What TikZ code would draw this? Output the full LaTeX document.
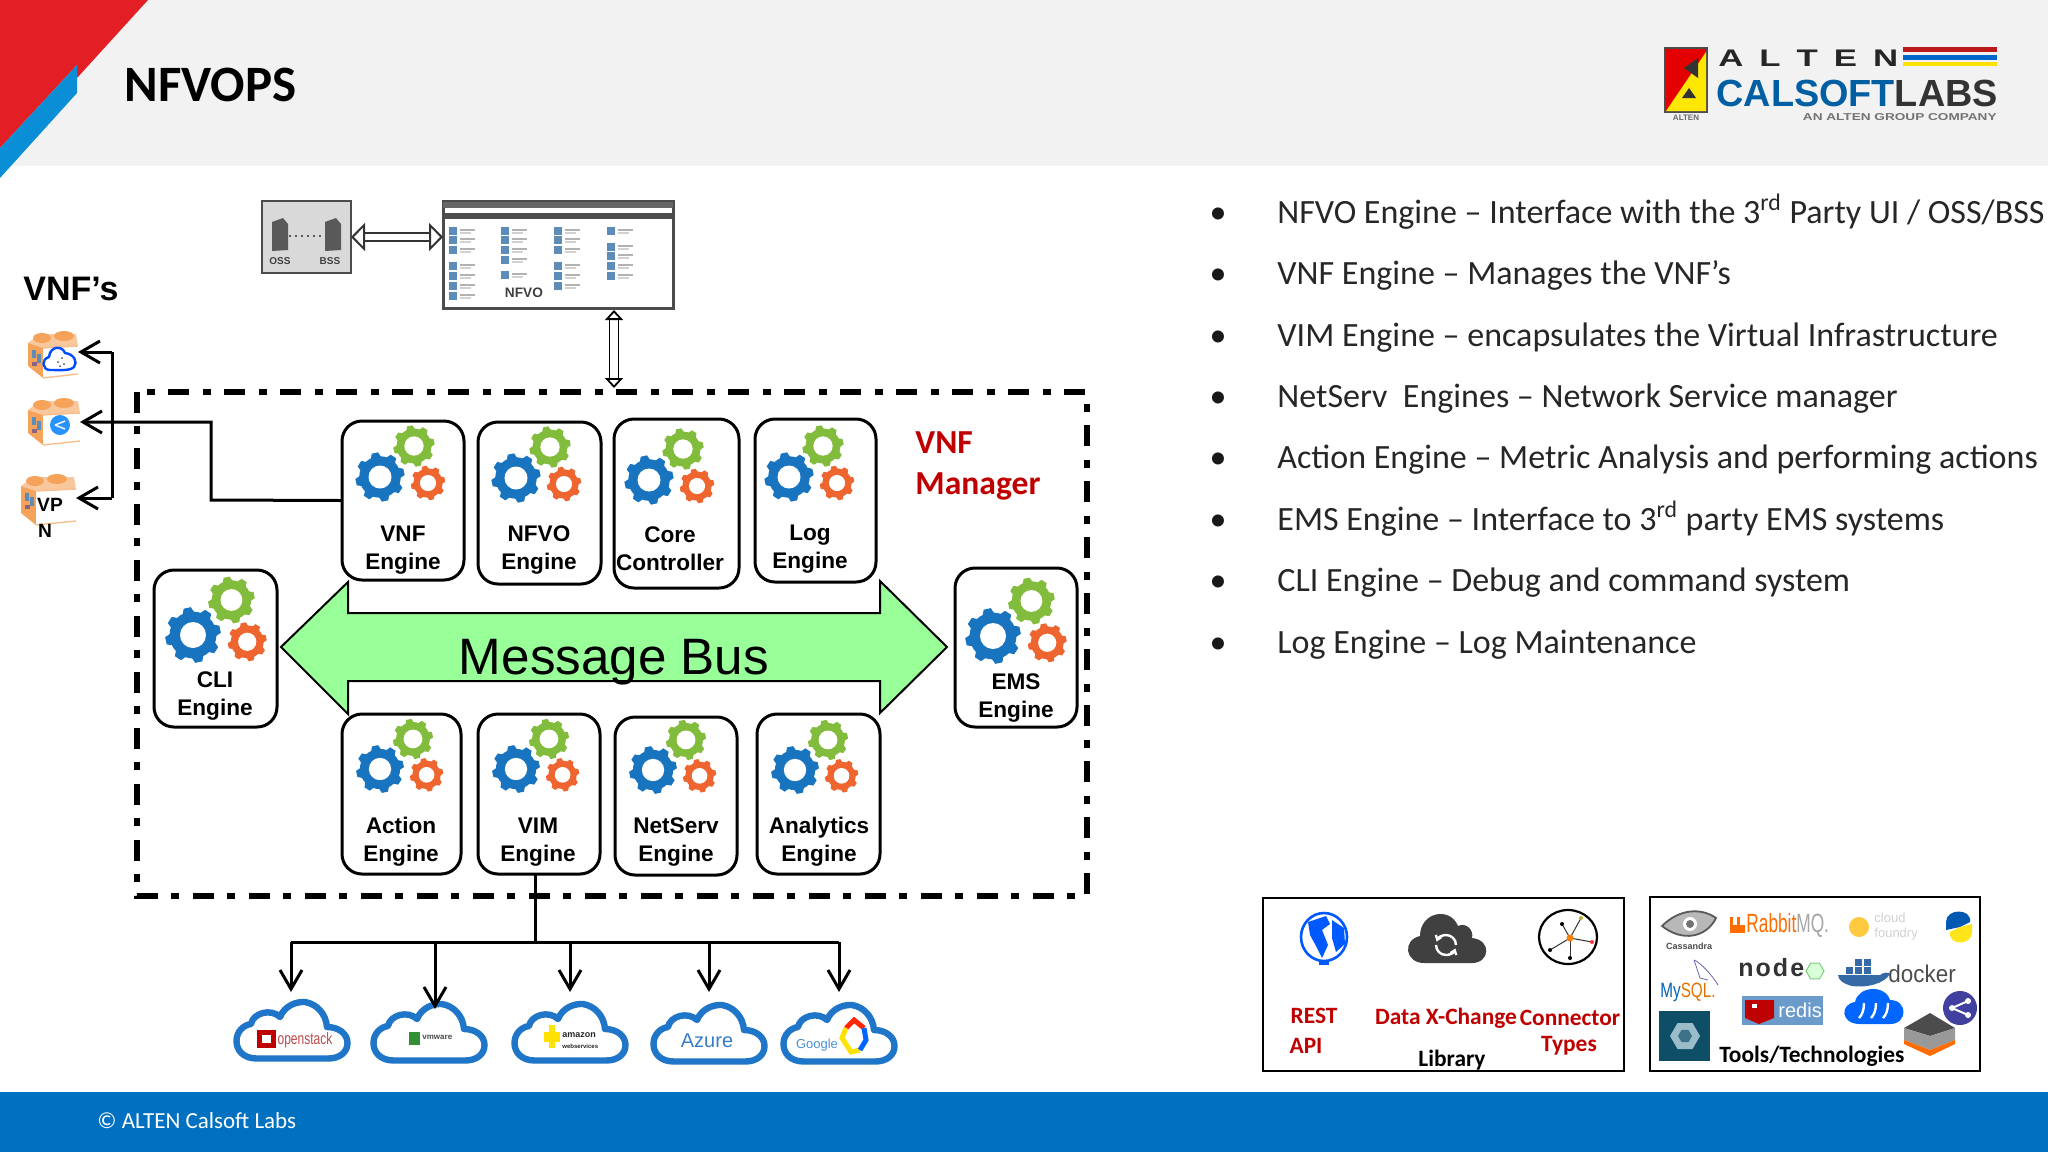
\documentclass[tikz,border=0pt]{standalone}
\usepackage{fontspec}
\usepackage{graphicx}
\setmainfont{Carlito}
\newfontfamily\arial{Liberation Sans}
\usetikzlibrary{arrows.meta,fit,calc,shapes.geometric}
\definecolor{hdr}{HTML}{F2F2F2}
\definecolor{ftr}{HTML}{0070C0}
\definecolor{hred}{HTML}{E31E24}
\definecolor{hblue}{HTML}{0A8FD6}
\definecolor{gearb}{HTML}{1874BE}
\definecolor{gearg}{HTML}{82BC3C}
\definecolor{gearo}{HTML}{EE6530}
\definecolor{busg}{HTML}{99FF99}
\definecolor{dred}{HTML}{C00000}
\definecolor{cloudb}{HTML}{1F76C8}
\definecolor{brick}{HTML}{F5A25A}
\definecolor{iconb}{HTML}{5B8DB8}
\definecolor{redisb}{HTML}{6A9BCB}
\definecolor{teal}{HTML}{0E4E66}
\newcommand{\fsz}[2]{\fontsize{#1}{#2}\selectfont}
\newcommand{\gearshape}[4]{%
 \begin{scope}[shift={(#1,#2)}]
  \foreach \a in {0,45,...,315}{\fill[#4,rotate=\a+12] (-0.22*#3,0.75*#3) -- (-0.13*#3,0.98*#3) -- (0.13*#3,0.98*#3) -- (0.22*#3,0.75*#3) -- cycle;}
  \fill[#4] (0,0) circle[radius=0.83*#3];
  \fill[white] (0,0) circle[radius=0.46*#3];
 \end{scope}}
\newcommand{\gearset}[2]{% blue centre, size factor
 \gearshape{#1}{#2}{25*\gearf}{gearb}
 \gearshape{#1+34*\gearf}{#2-31*\gearf}{21*\gearf}{gearg}
 \gearshape{#1+48*\gearf}{#2+6*\gearf}{17.5*\gearf}{gearo}}
\def\gearf{1}
\newcommand{\cloudicon}[3]{% name, left x, top y
 \begin{scope}[shift={(#2,#3)}]
  \node[fit={(0,0)(118,64)},inner sep=0pt,outer sep=0pt] (#1) {};
  \draw[cloudstroke] (24,60.5) .. controls (10,60.5) and (3.5,52) .. (3.5,43)
   .. controls (3.5,33) and (11,27) .. (18,26)
   .. controls (20,15) and (38,10) .. (47,19)
   .. controls (52,7) and (64,3.5) .. (72,4)
   .. controls (84,6) and (93,16) .. (94,29)
   .. controls (106,29) and (114.5,36) .. (114.5,45)
   .. controls (114.5,54) and (107,60.5) .. (95,60.5) -- cycle;
 \end{scope}}
\newcommand{\brickicon}[5]{% name x y w h
 \begin{scope}[shift={(#2,#3)}]
  \node[fit={(0,0)(#4,#5)},inner sep=0pt,outer sep=0pt] (#1) {};
  \fill[brick!60] (0,13) -- (12,4) -- (#4-2,4) -- (#4,16) -- (15,18) -- cycle;
  \fill[brick] (14,8) ellipse[x radius=9,y radius=5];
  \fill[brick] (36,6) ellipse[x radius=10,y radius=5];
  \fill[brick] (0,13) -- (15,18) -- (15,#5) -- (0,#5-12) -- cycle;
  \fill[white] (15,18) -- (#4,16) -- (#4,#5-4) -- (15,#5) -- cycle;
  \draw[brick!70,line width=.7pt] (15,18) -- (#4,16) (15,#5) -- (#4,#5-4);
  \fill[iconb] (4,20) rectangle (8,28);
  \fill[iconb] (9,24) rectangle (13,33);
  \fill[iconb!70!red] (4,32) rectangle (9,36);
 \end{scope}}
\tikzset{
 enginebox/.style={draw=black,line width=1.5pt,rounded corners=10pt,fill=white,inner sep=0pt,outer sep=0pt},
 enginetext/.style={font=\arial\bfseries\fsz{11.3}{14},align=center,inner sep=0pt,text=black},
 framedash/.style={draw=black,line width=2.7pt,dash pattern=on 10.5pt off 6.5pt on 4pt off 7pt},
 tipline/.style={draw=black,line width=1.5pt,-{Straight Barb[length=9.5pt,width=11pt,line width=1.5pt]}},
 plainline/.style={draw=black,line width=1.5pt},
 hollowh/.style={double=white,draw=black!80,line width=1pt,double distance=3pt,{Triangle[open,length=7pt,width=14pt,line width=1pt,fill=white]}-{Triangle[open,length=7pt,width=14pt,line width=1pt,fill=white]}},
 hollowv/.style={double=white,draw=black,line width=.9pt,double distance=3.6pt,{Triangle[open,length=5pt,width=9pt,line width=.9pt,fill=white]}-{Triangle[open,length=5pt,width=9pt,line width=.9pt,fill=white]}},
 bulletmark/.style={font=\fsz{17}{20},anchor=base,inner sep=0pt,text=black!90},
 bullettext/.style={font=\fsz{17}{20},anchor=base west,inner sep=0pt,text=black!85},
 cloudstroke/.style={draw=cloudb,line width=3.2pt,fill=white,line join=round},
 redlabel/.style={font=\bfseries\fsz{11.7}{14},text=dred,inner sep=0pt,align=center},
 blacklabel/.style={font=\bfseries\fsz{11.7}{14},text=black,inner sep=0pt,align=center},
 logobox/.style={draw=black,line width=1.2pt,fill=white,inner sep=0pt,outer sep=0pt},
}
\begin{document}
\begin{tikzpicture}[x=0.5pt,y=-0.5pt]
\useasboundingbox (0,0) rectangle (2048,1152);
\fill[white] (0,0) rectangle (2048,1152);
% header
\fill[hdr] (0,0) rectangle (2048,166);
\fill[ftr] (0,1092) rectangle (2048,1152);
\fill[hred] (0,0) -- (148,0) -- (77,78) -- (77,65) -- (0,148) -- cycle;
\fill[hblue] (77,65) -- (77,93) -- (0,178) -- (0,148) -- cycle;
\node[font=\bfseries\fsz{25.5}{28},anchor=base west,inner sep=0pt] (title) at (124,101) {NFVOPS};
% company logo
\fill[black!70] (1664,47) rectangle (1708,113);
\fill[red!90!black] (1666,49) rectangle (1706,111);
\fill[yellow!90!orange] (1666,111) -- (1706,111) -- (1706,52) -- cycle;
\fill[black!80] (1698,58) -- (1684,68) -- (1698,78) -- cycle;
\fill[black!80] (1689,88) -- (1682,98) -- (1696,98) -- cycle;
\node[font=\arial\bfseries\fsz{12}{13},anchor=west,inner sep=0pt,text=black!85] (alten) at (1718,58) {\scalebox{1.45}[1]{A\hspace{5.5pt}L\hspace{5.5pt}T\hspace{5.5pt}E\hspace{5.5pt}N}};
\fill[red!70!black!90] (1903,47) rectangle (1997,52);
\fill[blue!50!cyan!80!black] (1903,55) rectangle (1997,60);
\fill[yellow!85!orange] (1903,62) rectangle (1997,66);
\node[font=\arial\bfseries\fsz{18.9}{20},anchor=west,inner sep=0pt] (calsoft) at (1716,93) {\textcolor{ftr!85!black}{CALSOFT}\textcolor{black!80}{LABS}};
\node[font=\arial\bfseries\fsz{5}{6},anchor=east,inner sep=0pt,text=black!55] (group) at (1997,117) {\scalebox{1.36}[1]{AN ALTEN GROUP COMPANY}};
\node[font=\arial\bfseries\fsz{4}{5},anchor=center,inner sep=0pt,text=black!60] (altenmini) at (1686,118) {ALTEN};
% OSS/BSS
\node[draw=black!70,line width=1.3pt,fill=black!15,fit={(262,201)(351,273)},inner sep=0pt,outer sep=0pt] (oss) {};
\foreach \sx in {271,324}{\fill[black!65] (\sx+1,222) -- (\sx+12,218) -- (\sx+17,224) -- (\sx+17,250) -- (\sx+1,251) -- cycle;}
\draw[black!65,line width=1pt,dotted] (289,236) -- (324,236);
\node[font=\arial\bfseries\fsz{5}{6},text=black!75,inner sep=0pt] (osst) at (280,261) {OSS};
\node[font=\arial\bfseries\fsz{5}{6},text=black!75,inner sep=0pt] (bsst) at (330,261) {BSS};
% NFVO panel
\node[draw=black!70,line width=1.5pt,fill=white,fit={(443,201)(673,308)},inner sep=0pt,outer sep=0pt] (nfvo) {};
\fill[black!60] (443,202) rectangle (673,208);
\fill[black!70] (443,213) rectangle (673,219);
\foreach \cx/\rows in {453/{231,240,250,266,276,286,296},505/{231,240,250,260,275},558/{231,240,250,266,276,286},611/{231,247,256,266,276}}{\foreach \ry in \rows{%
 \fill[iconb] (\cx-4,\ry-4) rectangle (\cx+4,\ry+4);
 \fill[black!30] (\cx+7,\ry-2) rectangle (\cx+22,\ry);
 \fill[black!18] (\cx+7,\ry+1) rectangle (\cx+18,\ry+3);}}
\node[font=\arial\bfseries\fsz{6.85}{8},text=black!75,inner sep=0pt] (nfvot) at (524,293) {NFVO};
\draw[hollowh] (oss.east) -- (oss.east -| nfvo.west);
\coordinate (nfvodown) at (614,310);
\coordinate (framein) at (614,388);
\draw[hollowv] (nfvodown) -- (framein);
% frame
\draw[framedash] (137,392) rectangle (1087,896);
% message bus
\draw[draw=black,line width=1pt,fill=busg] (281,647) -- (348,582) -- (348,613) -- (880,613) -- (880,581) -- (947,647) -- (880,713) -- (880,681) -- (348,681) -- (348,714) -- cycle;
\node[font=\arial\fsz{25.6}{30},inner sep=0pt] (bus) at (614,662) {Message Bus};
% engines
\node[enginebox,fit={(342,421)(464,580)}] (vnfe) {};
\node[enginebox,fit={(478,422)(601,584)}] (nfvoe) {};
\node[enginebox,fit={(614,419)(739,588)}] (coree) {};
\node[enginebox,fit={(755,419)(876,582)}] (loge) {};
\node[enginebox,fit={(154,570)(277,727)}] (clie) {};
\node[enginebox,fit={(955,568)(1077,727)}] (emse) {};
\node[enginebox,fit={(342,714)(461,874)}] (actione) {};
\node[enginebox,fit={(478,714)(600,874)}] (vime) {};
\node[enginebox,fit={(615,717)(737,875)}] (nete) {};
\node[enginebox,fit={(757,714)(880,874)}] (anae) {};
\gearset{380}{477}\gearset{516}{478}\gearset{649}{480}\gearset{789}{477}
\def\gearf{1.13}
\gearset{193}{635}\gearset{993}{636}
\def\gearf{0.97}
\gearset{380}{769}\gearset{516}{769}\gearset{653}{770}\gearset{795}{770}
\node[enginetext] (tvnf) at (403,550) {VNF\\Engine};
\node[enginetext] (tnfvo) at (539,550) {NFVO\\Engine};
\node[enginetext] (tcore) at (670,549) {Core\\Controller};
\node[enginetext] (tlog) at (810,549) {Log\\Engine};
\node[enginetext] (tcli) at (215,696) {CLI\\Engine};
\node[enginetext] (tems) at (1016,698) {EMS\\Engine};
\node[enginetext] (taction) at (401,842) {Action\\Engine};
\node[enginetext] (tvim) at (538,842) {VIM\\Engine};
\node[enginetext] (tnet) at (676,842) {NetServ\\Engine};
\node[enginetext] (tana) at (819,842) {Analytics\\Engine};
\node[font=\bfseries\fsz{16.8}{20.5},text=dred,align=left,anchor=north west,inner sep=0pt] (mgr) at (915,431) {VNF\\Manager};
% VNFs
\node[font=\arial\bfseries\fsz{17}{19},anchor=west,inner sep=0pt] (vnfs) at (23,289) {VNF’s};
\brickicon{vnf1}{28}{330}{50}{48}
\brickicon{vnf2}{28}{397}{52}{48}
\brickicon{vnf3}{21}{473}{55}{52}
\draw[draw=blue!70!cyan,line width=1.2pt,fill=white] (50,370) .. controls (42,370) and (41,359) .. (49,357) .. controls (50,346) and (62,345) .. (65,353) .. controls (74,354) and (78,362) .. (74,367) .. controls (70,371) and (60,370) .. (50,370) -- cycle;
\foreach \dx/\dy in {58/362,62/358,64/364,60/366}{\fill[black!70] (\dx,\dy) circle[radius=1];}
\fill[blue!50!cyan!85] (60,425) circle[radius=10];
\draw[white,line width=.7pt] (55,425) -- (65,421) (55,425) -- (65,429);
\node[font=\arial\bfseries\fsz{9.6}{12},inner sep=0pt] (vp) at (50,505) {VP};
\node[font=\arial\bfseries\fsz{9.6}{12},inner sep=0pt] (vn) at (45,531) {N};
\coordinate (busa) at (112,352);
\coordinate (busb) at (112,498);
\coordinate (elbowa) at (211,500);
\coordinate (elbowb) at (211,422);
\draw[plainline] (busa) -- (busb);
\draw[tipline] (busa) -- (vnf1.east |- busa);
\draw[tipline] (busb) -- (vnf3.east |- busb);
\draw[tipline] (vnfe.west) -- (elbowa) -- (elbowb) -- (vnf2.east |- elbowb);
% clouds
\cloudicon{cl1}{233}{998}\cloudicon{cl2}{370}{1000}\cloudicon{cl3}{511}{1000}\cloudicon{cl4}{650}{1001}\cloudicon{cl5}{780}{1001}
\fill[red!75!black] (257,1030) rectangle (276,1048);\fill[white] (262,1035) rectangle (271,1043);
\node[font=\arial\fsz{7.5}{9},text=red!60!black!70,inner sep=0pt] (los) at (305,1040) {\scalebox{.8}[1.1]{openstack}};
\fill[green!45!black!80] (409,1032) rectangle (420,1045);
\node[font=\arial\bfseries\fsz{4}{5},text=black!70,anchor=west,inner sep=0pt] (lvm) at (422,1037) {vmware};
\fill[yellow!85!orange] (544,1032) rectangle (560,1042);\fill[yellow!85!orange] (549,1025) rectangle (555,1048);
\node[font=\arial\bfseries\fsz{4.5}{5.5},text=black!85,anchor=west,align=left,inner sep=0pt] (lam) at (562,1041) {amazon\\{\fsz{3}{4}webservices}};
\node[font=\arial\fsz{10}{12},text=cyan!50!blue!85,inner sep=0pt] (laz) at (707,1041) {Azure};
\node[font=\arial\fsz{6.5}{8},text=cloudb!80,inner sep=0pt] (lgo) at (817,1045) {Google};
\draw[line width=2.5pt,red!70!orange] (846,1028) -- (854,1020) -- (864,1028);
\draw[line width=2.5pt,yellow!85!orange] (846,1028) -- (842,1038) -- (851,1052) -- (860,1050);
\draw[line width=2.5pt,blue!60!cyan] (864,1028) -- (866,1040) -- (860,1050);
% tree
\coordinate (trunk) at (535,874);
\coordinate (hub) at (535,942);
\coordinate (bl) at (291,942);
\coordinate (b2) at (435,942);
\coordinate (b3) at (570,942);
\coordinate (b4) at (709,942);
\coordinate (br) at (839,942);
\draw[plainline] (trunk) -- (hub);
\draw[plainline] (bl) -- (br);
\draw[tipline,shorten >=3pt] (bl) -- (bl |- cl1.north);
\draw[tipline,shorten >=-4.5pt] (b2) -- (b2 |- cl2.north);
\draw[tipline,shorten >=4pt] (b3) -- (b3 |- cl3.north);
\draw[tipline,shorten >=4.5pt] (b4) -- (b4 |- cl4.north);
\draw[tipline,shorten >=4.5pt] (br) -- (br |- cl5.north);
% bullets
\foreach \n/\yy/\tx in {
 1/223/{NFVO Engine – Interface with the 3\textsuperscript{rd} Party UI / OSS/BSS},
 2/284/{VNF Engine – Manages the VNF’s},
 3/346/{VIM Engine – encapsulates the Virtual Infrastructure},
 4/407/{NetServ\ \ Engines – Network Service manager},
 5/468/{Action Engine – Metric Analysis and performing actions},
 6/530/{EMS Engine – Interface to 3\textsuperscript{rd} party EMS systems},
 7/591/{CLI Engine – Debug and command system},
 8/653/{Log Engine – Log Maintenance}}{
 \node[bulletmark] (bm\n) at (1218,\yy) {•};
 \node[bullettext] (bt\n) at (1277,\yy) {\tx};
}
% box A
\node[logobox,fit={(1263,898)(1624,1071)}] (boxa) {};
\draw[blue!65!cyan,line width=1.3pt] (1324,937) ellipse[x radius=23,y radius=24];
\fill[blue!65!cyan] (1308,922) -- (1326,916) -- (1330,924) -- (1322,930) -- (1328,945) -- (1322,958) -- (1316,946) -- (1310,935) -- cycle;
\fill[blue!65!cyan] (1332,920) -- (1344,928) -- (1345,944) -- (1336,952) -- (1332,938) -- cycle;
\fill[blue!65!cyan] (1319,961) rectangle (1329,965);
\fill[black!75] (1424,963) .. controls (1405,963) and (1402,940) .. (1420,936) .. controls (1420,912) and (1450,906) .. (1458,926) .. controls (1466,922) and (1474,930) .. (1472,938) .. controls (1492,940) and (1490,963) .. (1472,963) -- cycle;
\draw[white,line width=1.2pt,-{Straight Barb[length=2pt,width=3pt]}] (1436,945) arc[start angle=180,end angle=20,radius=10];
\draw[white,line width=1.2pt,-{Straight Barb[length=2pt,width=3pt]}] (1456,945) arc[start angle=0,end angle=-160,radius=10];
\draw[black,line width=1.1pt] (1568,937) ellipse[x radius=29,y radius=27];
\foreach \ex/\ey/\ec in {1581/918/yellow!70!black,1592/942/red!80,1562/924/black,1550/950/black,1570/958/black}{\draw[black!80,line width=.5pt] (1570,938) -- (\ex,\ey);\fill[\ec] (\ex,\ey) circle[radius=2];}
\fill[orange] (1570,938) circle[radius=3.5];
\node[redlabel] (rest) at (1314,1016) {REST};
\node[redlabel] (api) at (1306,1046) {API};
\node[redlabel] (dx) at (1446,1018) {Data X-Change};
\node[redlabel] (conn) at (1570,1018) {Connector};
\node[redlabel] (types) at (1569,1046) {Types};
\node[blacklabel] (lib) at (1452,1060) {Library};
% box B
\node[logobox,fit={(1650,897)(1980,1071)}] (boxb) {};
\draw[black!65,fill=black!28,line width=.9pt] (1662,926) .. controls (1680,908) and (1702,908) .. (1716,918) .. controls (1706,938) and (1682,942) .. (1662,926) -- cycle;
\fill[white] (1690,924) circle[radius=7];
\fill[black!55] (1690,924) circle[radius=4];
\node[font=\arial\bfseries\fsz{4.5}{5},text=black!70,inner sep=0pt] (cass) at (1689,946) {Cassandra};
\fill[orange!85!red] (1730,917) rectangle (1733,933);\fill[orange!85!red] (1733,925) rectangle (1745,933);\fill[orange!85!red] (1737,917) rectangle (1740,925);
\node[font=\arial\fsz{12}{14},text=orange!85!red,anchor=west,inner sep=0pt] (rabbit) at (1746,925) {\scalebox{.72}[1.1]{Rabbit\textcolor{black!35}{MQ.}}};
\fill[orange!55!yellow!75] (1859,927) circle[radius=10];
\node[font=\arial\fsz{6.5}{7.5},text=black!18,align=left,anchor=west,inner sep=0pt] (cf) at (1874,927) {cloud\\foundry};
\fill[blue!50!cyan!70!black] (1946,922) .. controls (1946,908) and (1972,908) .. (1970,922) -- (1960,927) -- (1946,930) -- cycle;
\fill[yellow!85!orange!90] (1972,932) .. controls (1972,946) and (1948,946) .. (1950,932) -- (1960,927) -- (1972,924) -- cycle;
\draw[blue!50!black!60,line width=.4pt] (1694,960) .. controls (1700,962) and (1712,975) .. (1718,985);
\draw[blue!50!black!60,line width=.4pt] (1694,960) -- (1700,978) -- (1708,980);
\node[font=\arial\fsz{9}{11},anchor=center,inner sep=0pt] (mysql) at (1688,992) {\scalebox{.85}[1.15]{\textcolor{blue!45!cyan!70!black}{My}\textcolor{orange!90!black}{SQL.}}};
\node[font=\arial\bfseries\fsz{12.5}{14},text=black!80,anchor=west,inner sep=0pt] (node) at (1738,968) {n\hspace{1pt}o\hspace{1pt}d\hspace{1pt}e};
\node[regular polygon,regular polygon sides=6,draw=green!60!black!50,fill=green!15,line width=.5pt,minimum size=9pt,inner sep=0pt] (nodehex) at (1815,971) {};
\foreach \wx in {1846,1855,1864}{\fill[cyan!50!blue!80!black] (\wx,967) rectangle (\wx+7,974);}
\foreach \wx in {1855,1864}{\fill[cyan!50!blue!80!black] (\wx,959) rectangle (\wx+7,966);}
\fill[cyan!50!blue!80!black] (1838,975) -- (1880,975) .. controls (1884,972) and (1888,972) .. (1890,974) .. controls (1884,984) and (1866,988) .. (1852,986) .. controls (1844,984) and (1838,980) .. (1838,975) -- cycle;
\node[font=\arial\fsz{11}{13},text=black!70,anchor=west,inner sep=0pt] (docker) at (1888,974) {\scalebox{1.02}[1.1]{docker}};
\fill[redisb] (1742,996) rectangle (1823,1025);
\fill[red!75!black] (1745,1000) -- (1774,1000) -- (1774,1018) -- (1759,1024) -- (1745,1018) -- cycle;
\fill[white] (1752,1004) rectangle (1757,1008);
\node[font=\arial\fsz{10}{12},text=white,anchor=west,inner sep=0pt] (redis) at (1778,1010) {redis};
\fill[blue!60!cyan] (1860,1024) .. controls (1840,1024) and (1840,1004) .. (1855,1002) .. controls (1858,986) and (1885,984) .. (1890,1000) .. controls (1908,1000) and (1908,1024) .. (1890,1024) -- cycle;
\foreach \ax in {1862,1874,1886}{\draw[white,line width=1.2pt] (\ax+2,1003) .. controls (\ax+2,1010) and (\ax,1015) .. (\ax-3,1018);}
\fill[blue!50!black!75] (1960,1008) circle[radius=17];
\draw[white,line width=1pt] (1952,1008) -- (1968,1001) (1952,1008) -- (1968,1015);
\foreach \sx/\sy in {1952/1008,1968/1001,1968/1015}{\fill[white] (\sx,\sy) circle[radius=3];}
\fill[teal] (1659,1011) rectangle (1710,1061);
\node[regular polygon,regular polygon sides=6,fill=cyan!35!gray!70,minimum size=15pt,inner sep=0pt] (hexd) at (1685,1036) {};
\node[regular polygon,regular polygon sides=6,fill=teal!80,minimum size=7pt,inner sep=0pt] (hexe) at (1685,1036) {};
\fill[black!70] (1930,1013) -- (1955,1028) -- (1930,1036) -- (1904,1028) -- cycle;
\fill[black!40] (1904,1028) -- (1930,1036) -- (1955,1028) -- (1955,1040) -- (1930,1050) -- (1904,1040) -- cycle;
\fill[orange!85!red] (1904,1040) -- (1930,1050) -- (1955,1040) -- (1955,1044) -- (1930,1056) -- (1904,1044) -- cycle;
\node[blacklabel,anchor=west] (tools) at (1719,1056) {Tools/Technologies};
% footer text
\node[font=\fsz{11.5}{13},text=white,anchor=west,inner sep=0pt] (copy) at (97,1121) {© ALTEN Calsoft Labs};
\end{tikzpicture}
\end{document}
